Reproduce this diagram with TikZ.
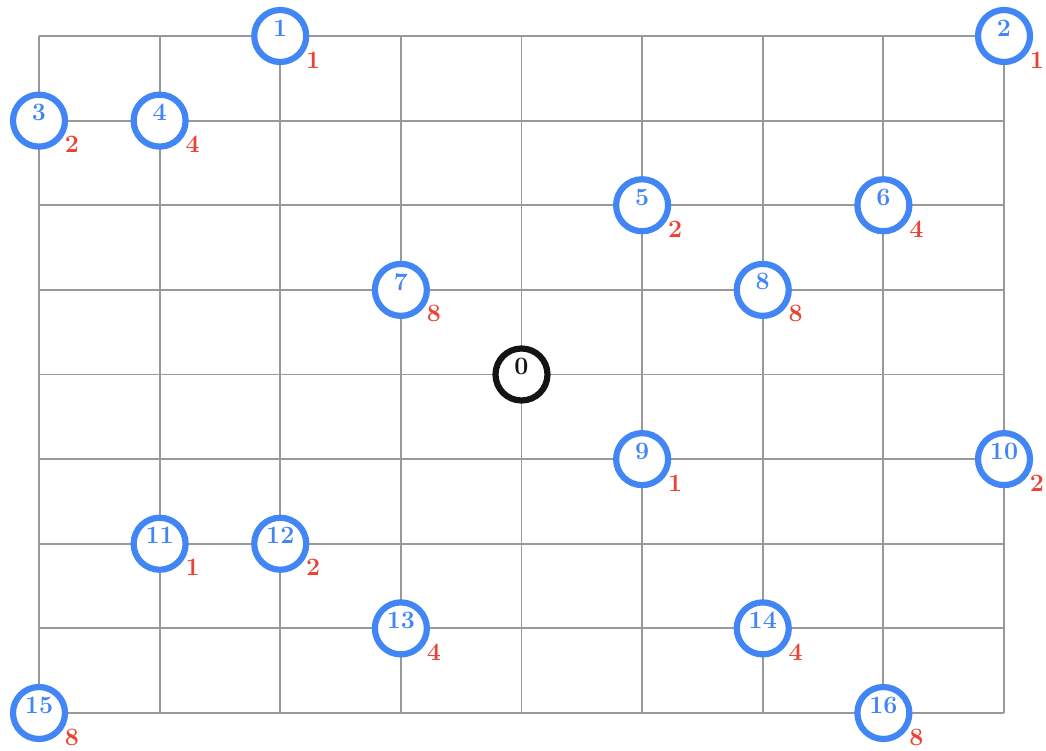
\documentclass[tikz,border=0pt]{standalone}
\usepackage{fontspec}
\setmainfont{Latin Modern Roman}
\usetikzlibrary{calc}
\definecolor{gblue}{HTML}{4285F4}
\definecolor{gred}{HTML}{EA4335}
\definecolor{ggray}{HTML}{999999}
\tikzset{
  gridline/.style={draw=ggray, line width=1.8pt},
  site/.style={circle, draw=gblue, line width=6.2pt, fill=white, minimum size=52pt, inner sep=0pt},
  depot/.style={site, draw=black!92},
  sitenum/.style={text=gblue, font=\fontsize{25}{25}\selectfont\bfseries, inner sep=0pt},
  depotnum/.style={sitenum, text=black!92},
  demand/.style={text=gred, font=\fontsize{25}{25}\selectfont\bfseries, inner sep=0pt},
}
\begin{document}
\begin{tikzpicture}[x=1pt, y=-1pt]
\useasboundingbox (0,0) rectangle (1046,751);
% grid
\foreach \i in {0,...,8} {
  \draw[gridline] ({39+\i*120.625},36) -- ({39+\i*120.625},713);
  \draw[gridline] (39,{36+\i*84.625}) -- (1004,{36+\i*84.625});
}
% depot
\node[depot] (n0) at ({39+4*120.625},{36+4*84.625}) {};
\node[depotnum] (n0t) at ($(n0.center)+(0,-8)$) {0};
% sites: id / col / row / demand
\foreach \id/\c/\r/\d in {1/2/0/1, 2/8/0/1, 3/0/1/2, 4/1/1/4, 5/5/2/2, 6/7/2/4, 7/3/3/8, 8/6/3/8,
  9/5/5/1, 10/8/5/2, 11/1/6/1, 12/2/6/2, 13/3/7/4, 14/6/7/4, 15/0/8/8, 16/7/8/8} {
  \node[site] (n\id) at ({39+\c*120.625},{36+\r*84.625}) {};
  \node[sitenum] (n\id t) at ($(n\id.center)+(0,-8)$) {\id};
  \node[demand] (n\id d) at ($(n\id.center)+(33,24)$) {\d};
}
\end{tikzpicture}
\end{document}
